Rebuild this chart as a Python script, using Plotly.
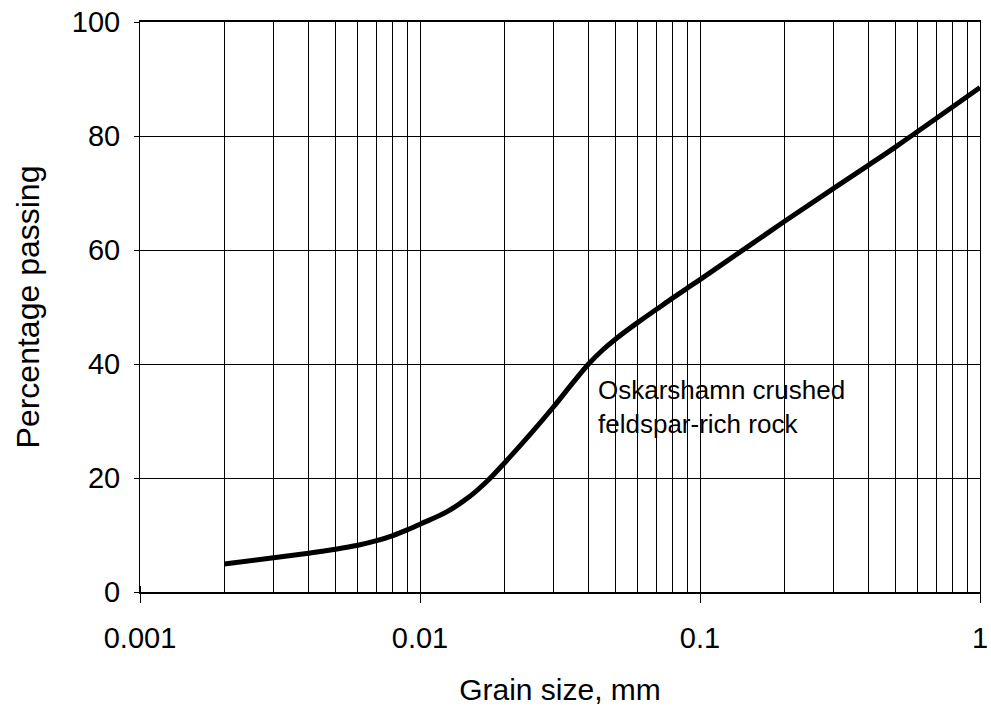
import math
import plotly.graph_objects as go

# Grain size distribution (sieve / hydrometer curve)
size_mm = [0.002, 0.003, 0.004, 0.005, 0.006, 0.007, 0.008, 0.009, 0.01,
           0.0125, 0.015, 0.0175, 0.02, 0.025, 0.03, 0.035, 0.04, 0.045, 0.05,
           0.06, 0.07, 0.08, 0.09, 0.1, 0.2, 0.3, 0.4, 0.5, 1.0]
passing_pct = [4.9, 6.0, 6.8, 7.5, 8.2, 9.0, 9.9, 10.9, 11.9,
               14.1, 16.7, 19.6, 22.6, 27.9, 32.5, 36.6, 40.0, 42.5, 44.4,
               47.3, 49.6, 51.6, 53.3, 54.8, 65.0, 70.8, 74.9, 78.1, 88.5]

x_tick_vals = [0.001, 0.01, 0.1, 1]
x_tick_text = ["0.001", "0.01", "0.1", "1"]
y_tick_vals = [0, 20, 40, 60, 80, 100]

curve_label = "Oskarshamn crushed<br>feldspar-rich rock"
label_size_mm = 0.0425
label_pct = 32.5

FONT = "Liberation Sans, Arial, sans-serif"

fig = go.Figure()
fig.add_trace(go.Scatter(
    x=size_mm, y=passing_pct, mode="lines",
    line=dict(color="black", width=5, shape="spline", smoothing=1.0),
    cliponaxis=False, showlegend=False, hoverinfo="skip",
))

# annotations on a log axis are positioned in log10 units
fig.add_annotation(
    x=math.log10(label_size_mm), y=label_pct, xref="x", yref="y",
    text=curve_label, showarrow=False, xanchor="left", yanchor="middle",
    align="left", font=dict(family=FONT, size=26, color="black"),
)

fig.update_xaxes(
    type="log", range=[-3, 0], automargin=False,
    tickvals=x_tick_vals, ticktext=x_tick_text,
    ticks="outside", ticklen=9, tickwidth=1, tickcolor="black",
    ticklabelstandoff=10,
    showgrid=True, gridcolor="black", gridwidth=1,
    minor=dict(dtick="D1", showgrid=True, gridcolor="black", gridwidth=1,
               ticks="inside", ticklen=6, tickcolor="black"),
    showline=True, linecolor="black", linewidth=2, mirror=True,
    tickfont=dict(family=FONT, size=29, color="black"),
    title=dict(text="Grain size, mm", font=dict(family=FONT, size=30, color="black"),
               standoff=26),
    zeroline=False,
)
fig.update_yaxes(
    range=[0, 100], tickvals=y_tick_vals, automargin=False,
    ticks="outside", ticklen=5, tickwidth=1, tickcolor="black",
    showgrid=True, gridcolor="black", gridwidth=1.3,
    showline=True, linecolor="black", linewidth=1, mirror=True,
    tickfont=dict(family=FONT, size=29, color="black"),
    ticklabelstandoff=8,
    title=dict(text="Percentage passing", font=dict(family=FONT, size=32, color="black"),
               standoff=22),
    zeroline=False,
)

fig.update_layout(
    width=991, height=711,
    margin=dict(l=140, r=11, t=22, b=119),
    paper_bgcolor="white", plot_bgcolor="white",
    showlegend=False,
)

fig.write_html("out.html")
